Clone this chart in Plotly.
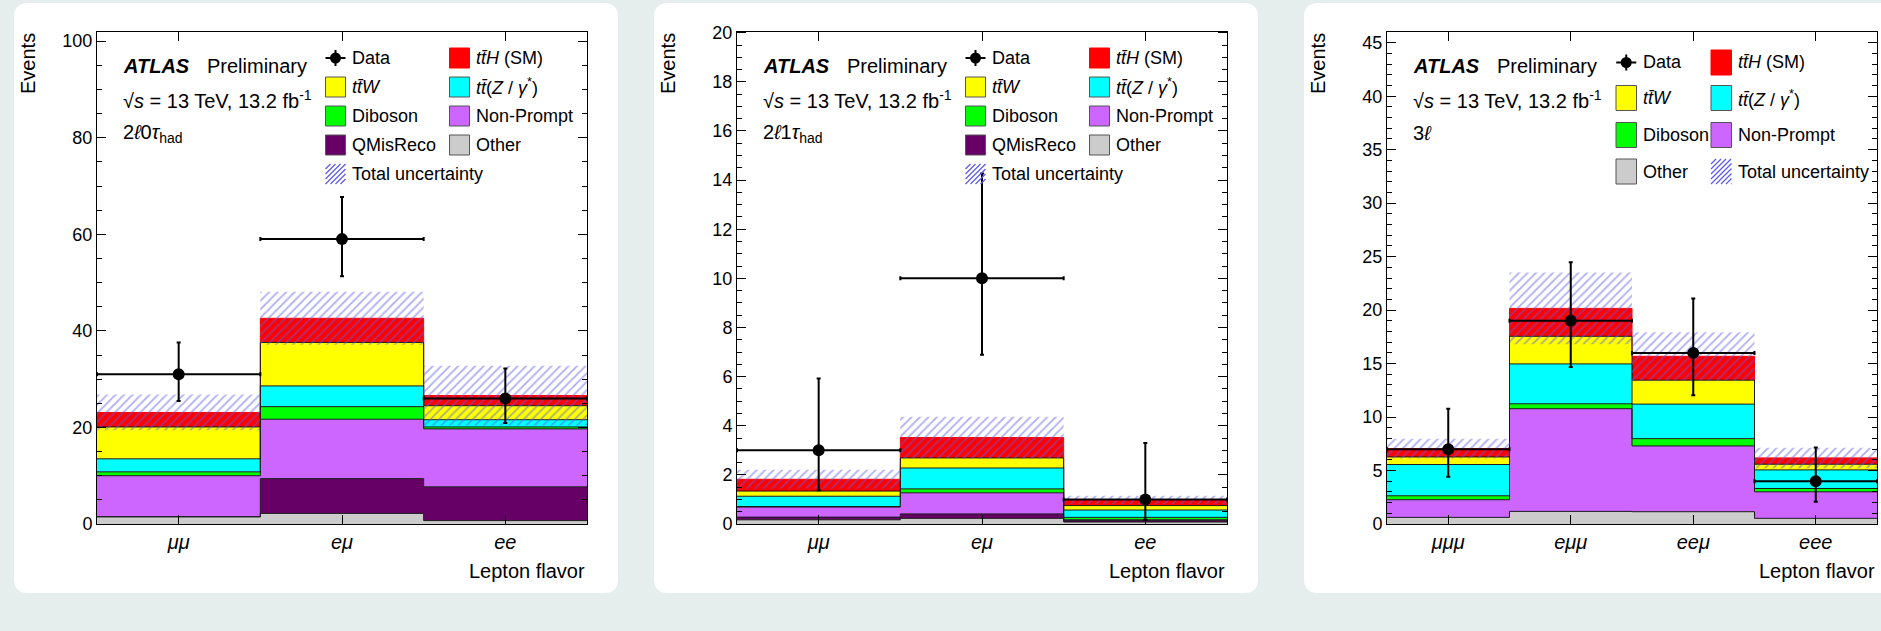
import numpy as np
import plotly.graph_objects as go

W, H = 1881, 631

# ---------------- data ----------------
FLAVOURS_2L = ["μμ", "eμ", "ee"]
FLAVOURS_3L = ["μμμ", "eμμ", "eeμ", "eee"]

# 2l0tau_had region: expected yields per process
OTHER_2L0T = [1.5, 2.2, 0.7]
QMIS_2L0T = [0.0, 7.2, 7.0]
NONPROMPT_2L0T = [8.5, 12.3, 12.0]
DIBOSON_2L0T = [0.8, 2.6, 0.4]
TTZ_2L0T = [2.7, 4.3, 1.5]
TTW_2L0T = [6.6, 9.0, 2.9]
TTH_2L0T = [3.0, 5.0, 2.1]
UNC_2L0T = [3.7, 5.5, 6.2]
DATA_2L0T = [31, 59, 26]
DATA_UP_2L0T = [6.6, 8.7, 6.2]
DATA_DN_2L0T = [5.5, 7.7, 5.1]

# 2l1tau_had region
OTHER_2L1T = [0.17, 0.23, 0.08]
QMIS_2L1T = [0.11, 0.18, 0.07]
NONPROMPT_2L1T = [0.41, 0.86, 0.02]
DIBOSON_2L1T = [0.02, 0.16, 0.10]
TTZ_2L1T = [0.42, 0.85, 0.30]
TTW_2L1T = [0.21, 0.41, 0.18]
TTH_2L1T = [0.48, 0.83, 0.23]
UNC_2L1T = [0.39, 0.85, 0.17]
DATA_2L1T = [3, 10, 1]
DATA_UP_2L1T = [2.92, 4.27, 2.30]
DATA_DN_2L1T = [1.63, 3.11, 0.83]

# 3l region
OTHER_3L = [0.62, 1.18, 1.15, 0.53]
NONPROMPT_3L = [1.65, 9.60, 6.15, 2.48]
DIBOSON_3L = [0.37, 0.46, 0.68, 0.31]
TTZ_3L = [2.92, 3.73, 3.23, 1.74]
TTW_3L = [0.71, 2.58, 2.24, 0.53]
TTH_3L = [0.78, 2.61, 2.23, 0.59]
UNC_3L = [0.93, 3.35, 2.24, 0.96]
DATA_3L = [7, 19, 16, 4]
DATA_UP_3L = [3.77, 5.48, 5.08, 3.16]
DATA_DN_3L = [2.58, 4.33, 3.96, 1.91]

# ---------------- style ----------------
FONT = "Liberation Sans, Arial, Helvetica, sans-serif"
BG = "#e6eeed"
COLORS = {
    "Other": "#cccccc",
    "QMisReco": "#660066",
    "Non-Prompt": "#cc66ff",
    "Diboson": "#00ff00",
    "ttZ": "#00ffff",
    "ttW": "#ffff00",
    "ttH": "#ff0000",
}
HATCH = "#5c5cee"
OUTLINE = "#1a1a1a"
LEGEND_TEXT = {
    "Data": "Data",
    "ttH": "<i>tt\u0304H</i> (SM)",
    "ttW": "<i>tt\u0304W</i>",
    "ttZ": "<i>tt\u0304</i>(<i>Z</i> / <i>γ</i><sup>*</sup>)",
    "Diboson": "Diboson",
    "Non-Prompt": "Non-Prompt",
    "QMisReco": "QMisReco",
    "Other": "Other",
    "Unc": "Total uncertainty",
}

CARD_LEFT = [14, 654, 1304]
CARD_W, CARD_TOP, CARD_BOTTOM, CARD_R = 604, 3, 593, 14
FRAME_LEFT = [97, 737, 1387]
FRAME_W, FRAME_TOP, FRAME_BOTTOM = 490, 31.5, 524


def X(v):
    return v / W


def Y(v):
    return 1 - v / H


panels = [
    dict(
        cats=FLAVOURS_2L,
        stack=[("Other", OTHER_2L0T), ("QMisReco", QMIS_2L0T), ("Non-Prompt", NONPROMPT_2L0T),
               ("Diboson", DIBOSON_2L0T), ("ttZ", TTZ_2L0T), ("ttW", TTW_2L0T), ("ttH", TTH_2L0T)],
        unc=UNC_2L0T, data=DATA_2L0T, up=DATA_UP_2L0T, dn=DATA_DN_2L0T,
        ymax=102, dtick=20, minor=5,
        region="2<i>ℓ</i>0<i>τ</i><sub>had</sub>", region_y=134,
    ),
    dict(
        cats=FLAVOURS_2L,
        stack=[("Other", OTHER_2L1T), ("QMisReco", QMIS_2L1T), ("Non-Prompt", NONPROMPT_2L1T),
               ("Diboson", DIBOSON_2L1T), ("ttZ", TTZ_2L1T), ("ttW", TTW_2L1T), ("ttH", TTH_2L1T)],
        unc=UNC_2L1T, data=DATA_2L1T, up=DATA_UP_2L1T, dn=DATA_DN_2L1T,
        ymax=20.05, dtick=2, minor=0.5,
        region="2<i>ℓ</i>1<i>τ</i><sub>had</sub>", region_y=134,
    ),
    dict(
        cats=FLAVOURS_3L,
        stack=[("Other", OTHER_3L), ("Non-Prompt", NONPROMPT_3L), ("Diboson", DIBOSON_3L),
               ("ttZ", TTZ_3L), ("ttW", TTW_3L), ("ttH", TTH_3L)],
        unc=UNC_3L, data=DATA_3L, up=DATA_UP_3L, dn=DATA_DN_3L,
        ymax=46.05, dtick=5, minor=1,
        region="3<i>ℓ</i>", region_y=133,
    ),
]

fig = go.Figure()
shapes, annotations = [], []


def rounded_rect(x0, y0, x1, y1, r):
    return (f"M {X(x0 + r)},{Y(y0)} L {X(x1 - r)},{Y(y0)} Q {X(x1)},{Y(y0)} {X(x1)},{Y(y0 + r)} "
            f"L {X(x1)},{Y(y1 - r)} Q {X(x1)},{Y(y1)} {X(x1 - r)},{Y(y1)} "
            f"L {X(x0 + r)},{Y(y1)} Q {X(x0)},{Y(y1)} {X(x0)},{Y(y1 - r)} "
            f"L {X(x0)},{Y(y0 + r)} Q {X(x0)},{Y(y0)} {X(x0 + r)},{Y(y0)} Z")


def text(x, y, s, size, xanchor="left", yanchor="middle", angle=0):
    annotations.append(dict(
        x=X(x), y=Y(y), xref="paper", yref="paper", text=s, showarrow=False,
        xanchor=xanchor, yanchor=yanchor, textangle=angle,
        font=dict(family=FONT, size=size, color="black"),
    ))


def box(x0, y0, x1, y1, fill, line):
    shapes.append(dict(type="rect", xref="paper", yref="paper",
                       x0=X(x0), x1=X(x1), y0=Y(y1), y1=Y(y0),
                       fillcolor=fill, line=dict(color=line, width=1), layer="above"))


def hatch_box(x0, y0, x1, y1, step=5):
    h = y1 - y0
    c = x0 - h
    while c < x1:
        sx, sy = c, y1
        ex, ey = c + h, y0
        if sx < x0:
            sy = y1 - (x0 - sx)
            sx = x0
        if ex > x1:
            ey = y1 - (x1 - c)
            ex = x1
        shapes.append(dict(type="line", xref="paper", yref="paper",
                           x0=X(sx), y0=Y(sy), x1=X(ex), y1=Y(ey),
                           line=dict(color=HATCH, width=1.2), layer="above"))
        c += step


def data_swatch(cx, cy):
    shapes.append(dict(type="line", xref="paper", yref="paper", x0=X(cx - 10), x1=X(cx + 10),
                       y0=Y(cy), y1=Y(cy), line=dict(color="black", width=2), layer="above"))
    shapes.append(dict(type="line", xref="paper", yref="paper", x0=X(cx), x1=X(cx),
                       y0=Y(cy - 8), y1=Y(cy + 8), line=dict(color="black", width=2), layer="above"))
    shapes.append(dict(type="circle", xref="paper", yref="paper", x0=X(cx - 5.5), x1=X(cx + 5.5),
                       y0=Y(cy + 5.5), y1=Y(cy - 5.5), fillcolor="black",
                       line=dict(color="black", width=0), layer="above"))


for i, p in enumerate(panels):
    k = "" if i == 0 else str(i + 1)
    xa, ya = "x" + k, "y" + k
    n = len(p["cats"])
    fl = FRAME_LEFT[i]
    edges = list(range(n + 1))
    centers = [j + 0.5 for j in range(n)]

    # white card behind each panel
    shapes.append(dict(type="path", xref="paper", yref="paper", layer="below",
                       path=rounded_rect(CARD_LEFT[i], CARD_TOP, CARD_LEFT[i] + CARD_W, CARD_BOTTOM, CARD_R),
                       fillcolor="white", line=dict(width=0)))

    # stacked backgrounds: filled step histograms
    cum = np.zeros(n)
    tops = []
    for j, (name, vals) in enumerate(p["stack"]):
        cum = cum + np.array(vals, dtype=float)
        yy = list(cum) + [cum[-1]]
        tops.append((name, yy))
        fig.add_trace(go.Scatter(
            x=edges, y=yy, mode="lines", line_shape="hv",
            line=dict(width=0, color="rgba(0,0,0,0)"),
            fill="tozeroy" if j == 0 else "tonexty", fillcolor=COLORS[name],
            xaxis=xa, yaxis=ya, showlegend=False, hoverinfo="skip",
        ))
    # outlines, topmost first so lower contours sit above it
    for name, yy in reversed(tops):
        fig.add_trace(go.Scatter(
            x=edges, y=yy, mode="lines", line_shape="hv",
            line=dict(color=COLORS["ttH"] if name == "ttH" else OUTLINE, width=1),
            xaxis=xa, yaxis=ya, showlegend=False, hoverinfo="skip",
        ))
    total = cum
    unc = np.array(p["unc"], dtype=float)
    lo = total - unc
    hi = total + unc

    # hatched total-uncertainty band
    fig.add_trace(go.Scatter(
        x=edges, y=list(lo) + [lo[-1]], mode="lines", line_shape="hv",
        line=dict(width=0, color="rgba(0,0,0,0)"),
        xaxis=xa, yaxis=ya, showlegend=False, hoverinfo="skip",
    ))
    fig.add_trace(go.Scatter(
        x=edges, y=list(hi) + [hi[-1]], mode="lines", line_shape="hv",
        line=dict(width=0, color="rgba(0,0,0,0)"),
        fill="tonexty", fillcolor="rgba(0,0,0,0)",
        fillpattern=dict(shape="/", fgcolor=HATCH, bgcolor="rgba(0,0,0,0)",
                         size=6, solidity=0.3, fillmode="overlay"),
        xaxis=xa, yaxis=ya, showlegend=False, hoverinfo="skip",
    ))

    # observed data with Poisson errors
    fig.add_trace(go.Scatter(
        x=centers, y=p["data"], mode="markers",
        marker=dict(color="black", size=12, symbol="circle"),
        error_y=dict(type="data", symmetric=False, array=p["up"], arrayminus=p["dn"],
                     color="black", thickness=2, width=2),
        error_x=dict(type="constant", value=0.5, color="black", thickness=2, width=2),
        xaxis=xa, yaxis=ya, showlegend=False, hoverinfo="skip",
    ))

    axis_common = dict(showgrid=False, zeroline=False, showline=True, linecolor="black",
                       linewidth=1, mirror="allticks", ticks="inside", tickcolor="black",
                       tickwidth=1, fixedrange=True, automargin=False)
    fig.layout["xaxis" + k] = dict(
        axis_common, domain=[X(fl), X(fl + FRAME_W)], range=[0, n], anchor=ya,
        tickvals=centers, ticktext=[f"<i>{c}</i>" for c in p["cats"]], ticklen=9,
        tickfont=dict(family=FONT, size=20, color="black"),
    )
    fig.layout["yaxis" + k] = dict(
        axis_common, domain=[Y(FRAME_BOTTOM), Y(FRAME_TOP)], range=[0, p["ymax"]], anchor=xa,
        tick0=0, dtick=p["dtick"], ticklen=9,
        minor=dict(dtick=p["minor"], tick0=0, ticks="inside", ticklen=5, tickcolor="black",
                   tickwidth=1, showgrid=False),
        tickfont=dict(family=FONT, size=18, color="black"),
    )

    # axis titles
    text(fl - 69, FRAME_TOP, "Events", 20, xanchor="center", yanchor="top", angle=-90)
    text(fl + FRAME_W, 571, "Lepton flavor", 20, xanchor="right")

    # labels
    text(fl + 24, 66, "<b><i>ATLAS</i></b>", 20)
    text(fl + 107.5, 66, "Preliminary", 20)
    text(fl + 24, 100, "√<i>s</i> = 13 TeV, 13.2 fb<sup>-1</sup>", 20)
    text(fl + 24, p["region_y"], p["region"], 20)

    # legend
    if i < 2:
        rows = [58, 87, 116, 145, 174]
        c1, c2, bh = fl + 228.5, fl + 352.5, 20
        bw = 20
        entries = [("Data", 0, 0), ("ttH", 0, 1), ("ttW", 1, 0), ("ttZ", 1, 1),
                   ("Diboson", 2, 0), ("Non-Prompt", 2, 1), ("QMisReco", 3, 0),
                   ("Other", 3, 1), ("Unc", 4, 0)]
    else:
        rows = [62.5, 98, 135, 171.5]
        c1, c2, bh = fl + 229, fl + 324, 25
        bw = 20.5
        entries = [("Data", 0, 0), ("ttH", 0, 1), ("ttW", 1, 0), ("ttZ", 1, 1),
                   ("Diboson", 2, 0), ("Non-Prompt", 2, 1), ("Other", 3, 0), ("Unc", 3, 1)]
    for name, r, c in entries:
        bx = c1 if c == 0 else c2
        cy = rows[r]
        if name == "Data":
            data_swatch(bx + bw / 2, cy)
        elif name == "Unc":
            hatch_box(bx, cy - bh / 2, bx + bw, cy + bh / 2)
        else:
            box(bx, cy - bh / 2, bx + bw, cy + bh / 2, COLORS[name],
                COLORS["ttH"] if name == "ttH" else "#555555")
        text(bx + bw + 4.5, cy, LEGEND_TEXT[name], 18)

fig.update_layout(
    width=W, height=H, autosize=False,
    margin=dict(l=0, r=0, t=0, b=0),
    paper_bgcolor=BG, plot_bgcolor="white",
    shapes=shapes, annotations=annotations,
    font=dict(family=FONT, color="black"),
    showlegend=False,
)

# page without default body margin so the figure fills the window exactly
fig.write_html(
    "out.html",
    config={"displayModeBar": False},
    post_script="document.documentElement.style.margin='0';document.body.style.margin='0';"
                "document.body.style.overflow='hidden';",
)
